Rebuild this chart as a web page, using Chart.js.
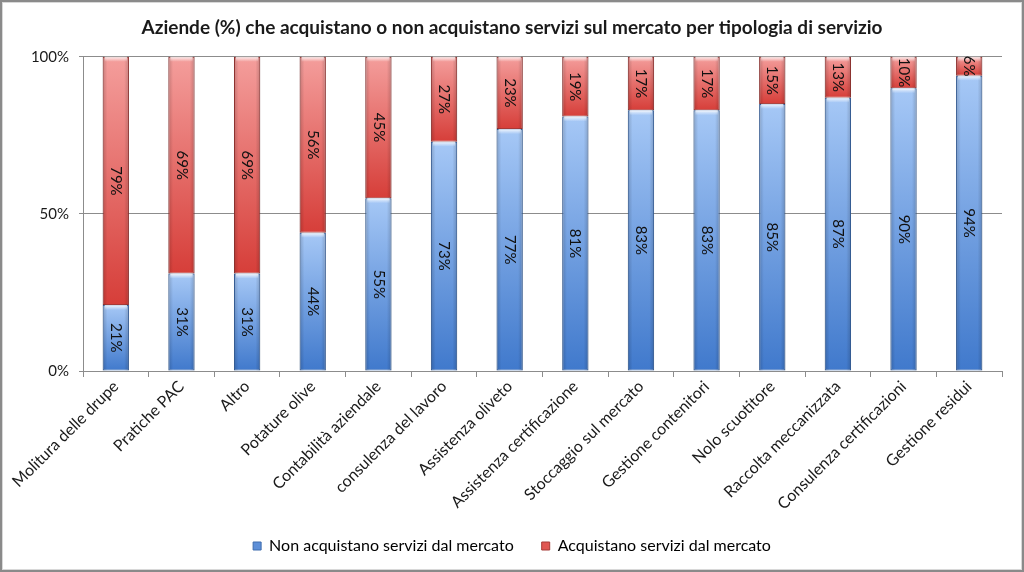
<!DOCTYPE html>
<html>
<head>
<meta charset="utf-8">
<script src="https://cdn.jsdelivr.net/npm/chart.js@4/dist/chart.umd.min.js"></script>
<style>
  html, body { margin: 0; padding: 0; background: #fff; }
  #wrap { width: 1024px; height: 572px; position: relative; }
</style>
</head>
<body>
<div id="wrap"><canvas id="c" width="1024" height="572"></canvas></div>
<script>
const categories = [
  "Molitura delle drupe", "Pratiche PAC", "Altro", "Potature olive",
  "Contabilità aziendale", "consulenza del lavoro", "Assistenza oliveto",
  "Assistenza certificazione", "Stoccaggio sul mercato", "Gestione contenitori",
  "Nolo scuotitore", "Raccolta meccanizzata", "Consulenza certificazioni", "Gestione residui"
];
const nonAcquistano = [21, 31, 31, 44, 55, 73, 77, 81, 83, 83, 85, 87, 90, 94];
const acquistano    = [79, 69, 69, 56, 45, 27, 23, 19, 17, 17, 15, 13, 10, 6];
const yTicks = [0, 50, 100];
const seriesNames = ["Non acquistano servizi dal mercato", "Acquistano servizi dal mercato"];
const titleText = "Aziende (%) che acquistano o non acquistano servizi sul mercato per tipologia di servizio";

const FONT = "Lato, 'Open Sans', sans-serif";

function segBounds(di, i) {
  if (di === 0) return [0, nonAcquistano[i]];
  return [nonAcquistano[i], nonAcquistano[i] + acquistano[i]];
}

function makeGrad(c, top, bottom, fallback) {
  const chart = c.chart;
  if (!chart.chartArea || c.dataIndex === undefined) return fallback;
  const y = chart.scales.y;
  const [lo, hi] = segBounds(c.datasetIndex, c.dataIndex);
  const y1 = y.getPixelForValue(hi), y2 = y.getPixelForValue(lo);
  if (!isFinite(y1) || !isFinite(y2) || y1 === y2) return fallback;
  const g = chart.ctx.createLinearGradient(0, y1, 0, y2);
  g.addColorStop(0, top);
  g.addColorStop(1, bottom);
  return g;
}

const labelPlugin = {
  id: 'segLabels',
  afterDatasetsDraw(chart) {
    const ctx = chart.ctx;
    chart.data.datasets.forEach((ds, di) => {
      const meta = chart.getDatasetMeta(di);
      meta.data.forEach((bar, i) => {
        const p = bar.getProps(['x', 'y', 'base', 'width'], true);
        const left = p.x - p.width / 2, right = p.x + p.width / 2;
        const top = Math.min(p.y, p.base), bot = Math.max(p.y, p.base);
        ctx.save();
        const hg = ctx.createLinearGradient(left, 0, right, 0);
        hg.addColorStop(0, 'rgba(0,0,0,0.18)');
        hg.addColorStop(0.18, 'rgba(0,0,0,0)');
        hg.addColorStop(0.82, 'rgba(0,0,0,0)');
        hg.addColorStop(1, 'rgba(0,0,0,0.18)');
        ctx.fillStyle = hg;
        ctx.fillRect(left, top, p.width, bot - top);
        const vg = ctx.createLinearGradient(0, top, 0, top + 5);
        vg.addColorStop(0, 'rgba(255,255,255,0.85)');
        vg.addColorStop(1, 'rgba(255,255,255,0)');
        ctx.fillStyle = vg;
        ctx.fillRect(left + 2, top, p.width - 4, Math.min(5, bot - top));
        ctx.restore();
      });
    });
    chart.data.datasets.forEach((ds, di) => {
      const meta = chart.getDatasetMeta(di);
      meta.data.forEach((bar, i) => {
        const p = bar.getProps(['x', 'y', 'base'], true);
        const cy = (p.y + p.base) / 2;
        ctx.save();
        ctx.translate(p.x, cy);
        ctx.rotate(Math.PI / 2);
        ctx.font = "15px " + FONT;
        ctx.fillStyle = '#111';
        ctx.textAlign = 'center';
        ctx.textBaseline = 'middle';
        ctx.fillText(ds.data[i] + '%', 0, 0);
        ctx.restore();
      });
    });
  },
  afterDraw(chart) {
    const ctx = chart.ctx;
    ctx.save();
    ctx.strokeStyle = '#8a8a8a';
    ctx.lineWidth = 2;
    ctx.strokeRect(1, 1, chart.width - 2, chart.height - 2);
    ctx.strokeStyle = '#d8d8d8';
    ctx.lineWidth = 1;
    ctx.strokeRect(2.5, 2.5, chart.width - 5, chart.height - 5);
    ctx.restore();
  }
};

const bgPlugin = {
  id: 'bg',
  beforeDraw(chart) {
    const ctx = chart.ctx;
    ctx.save();
    ctx.fillStyle = '#fff';
    ctx.fillRect(0, 0, chart.width, chart.height);
    ctx.restore();
  }
};

new Chart(document.getElementById('c'), {
  type: 'bar',
  data: {
    labels: categories,
    datasets: [
      {
        label: seriesNames[0],
        data: nonAcquistano,
        backgroundColor: (c) => makeGrad(c, '#a6c8f6', '#4079cc', '#6f9fe0'),
        borderColor: '#3e6cae',
        borderWidth: 1,
        borderSkipped: false,
        barPercentage: 0.8,
        categoryPercentage: 0.5
      },
      {
        label: seriesNames[1],
        data: acquistano,
        backgroundColor: (c) => makeGrad(c, '#f49e9c', '#d63e39', '#e86a66'),
        borderColor: '#a63a37',
        borderWidth: 1,
        borderSkipped: false,
        barPercentage: 0.8,
        categoryPercentage: 0.5
      }
    ]
  },
  options: {
    responsive: false,
    animation: false,
    devicePixelRatio: 1,
    layout: { padding: { left: 11, right: 11, top: 0, bottom: 8 } },
    plugins: {
      title: {
        display: true,
        text: titleText,
        color: '#1a1a1a',
        font: { family: FONT, size: 19, weight: 'bold', lineHeight: 1.2 },
        padding: { top: 16, bottom: 18 }
      },
      legend: {
        position: 'bottom',
        labels: {
          color: '#1a1a1a',
          font: { family: FONT, size: 16 },
          boxWidth: 8,
          boxHeight: 8,
          padding: 28,
          generateLabels(chart) {
            const cols = [['#5d8fd8', '#3e6cae'], ['#e05752', '#a63a37']];
            return chart.data.datasets.map((ds, i) => ({
              text: ds.label,
              fillStyle: cols[i][0],
              strokeStyle: cols[i][1],
              lineWidth: 1,
              datasetIndex: i,
              hidden: false
            }));
          }
        }
      },
      tooltip: { enabled: false }
    },
    scales: {
      x: {
        stacked: true,
        grid: {
          offset: true,
          drawOnChartArea: false,
          drawTicks: true,
          tickLength: 6,
          color: '#8c8c8c'
        },
        border: { display: true, color: '#8c8c8c', width: 1 },
        ticks: {
          minRotation: 45,
          maxRotation: 45,
          autoSkip: false,
          color: '#1a1a1a',
          padding: 0,
          font: { family: FONT, size: 16 }
        },
        afterFit(scale) { scale.height = 139; }
      },
      y: {
        stacked: true,
        min: 0,
        max: 100,
        afterBuildTicks(scale) { scale.ticks = yTicks.map(v => ({ value: v })); },
        grid: {
          color: '#8c8c8c',
          tickLength: 4,
          drawTicks: true
        },
        border: { display: true, color: '#8c8c8c', width: 1 },
        ticks: {
          color: '#1a1a1a',
          padding: 10,
          font: { family: FONT, size: 15 },
          callback: (v) => v + '%'
        },
        afterFit(scale) { scale.width = 72; }
      },
      yRight: {
        position: 'right',
        min: 0,
        max: 100,
        grid: { display: false },
        border: { display: false },
        ticks: { display: false },
        afterFit(scale) { scale.width = 11; }
      }
    }
  },
  plugins: [bgPlugin, labelPlugin]
});
</script>
</body>
</html>
